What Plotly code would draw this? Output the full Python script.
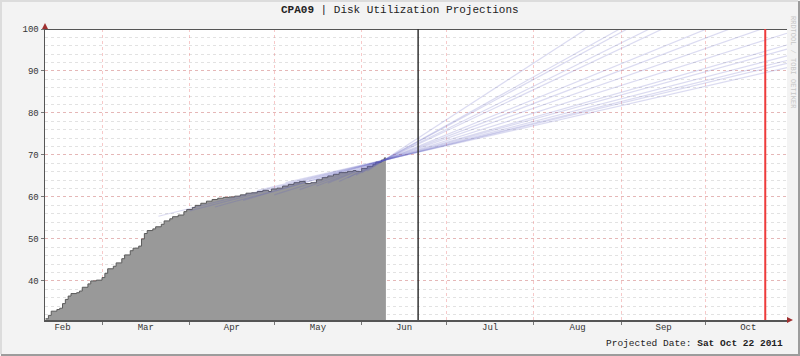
import plotly.graph_objects as go

# ---------------- data ----------------
usage_dates = [
    "2011-02-09", "2011-02-10", "2011-02-11", "2011-02-13", "2011-02-14", "2011-02-15",
    "2011-02-16", "2011-02-17", "2011-02-18", "2011-02-20", "2011-02-21", "2011-02-22",
    "2011-02-24", "2011-02-25", "2011-02-27", "2011-03-01", "2011-03-02", "2011-03-03",
    "2011-03-05", "2011-03-06", "2011-03-08", "2011-03-09", "2011-03-11", "2011-03-12",
    "2011-03-14", "2011-03-15", "2011-03-16", "2011-03-17", "2011-03-19", "2011-03-20",
    "2011-03-22", "2011-03-23", "2011-03-25", "2011-03-26", "2011-03-28", "2011-03-30",
    "2011-03-31", "2011-04-02", "2011-04-03", "2011-04-05", "2011-04-07", "2011-04-09",
    "2011-04-11", "2011-04-13", "2011-04-15", "2011-04-17", "2011-04-19", "2011-04-21",
    "2011-04-23", "2011-04-25", "2011-04-27", "2011-04-29", "2011-04-30", "2011-05-02",
    "2011-05-04", "2011-05-06", "2011-05-08", "2011-05-10", "2011-05-12", "2011-05-14",
    "2011-05-16", "2011-05-18", "2011-05-20", "2011-05-22", "2011-05-24", "2011-05-27",
    "2011-05-29", "2011-05-30", "2011-06-01", "2011-06-03", "2011-06-05", "2011-06-06",
    "2011-06-08", "2011-06-09", "2011-06-09 14:00",
]
usage_values = [
    31.0, 31.8, 32.8, 33.2, 33.5, 34.6,
    35.6, 36.4, 37.0, 37.2, 37.6, 38.5,
    39.3, 40.0, 40.2, 40.8, 41.8, 42.9,
    43.5, 44.3, 45.3, 46.2, 47.2, 47.8,
    48.3, 50.0, 51.3, 52.0, 52.4, 52.9,
    53.5, 54.3, 54.8, 55.3, 55.7, 56.5,
    57.0, 57.5, 58.0, 58.5, 59.0, 59.4,
    59.7, 59.9, 60.0, 60.2, 60.5, 60.9,
    61.0, 61.3, 61.6, 61.3, 61.9, 62.1,
    62.6, 63.0, 63.4, 63.7, 63.2, 63.4,
    64.1, 64.6, 65.0, 65.4, 65.8, 66.1,
    66.3, 66.1, 66.8, 67.3, 67.8, 68.3,
    68.8, 69.3, 69.3,
]

# projection trend lines: start point and value at the right edge of the chart
proj_start_dates = [
    "2011-06-03", "2011-06-01", "2011-05-30", "2011-05-27", "2011-05-24",
    "2011-05-20", "2011-05-16", "2011-05-10", "2011-05-01", "2011-04-20",
    "2011-04-10", "2011-04-01", "2011-03-21", "2011-04-25", "2011-05-05",
]
proj_start_values = [
    66.2, 65.8, 65.2, 64.5, 63.7,
    63.3, 62.6, 61.75, 60.5, 59.2,
    57.6, 56.7, 55.4, 61.5, 63.4,
]
proj_end_date = "2011-10-29 17:00"
proj_end_values = [
    131.0, 122.2, 120.5, 116.2, 114.0,
    107.8, 105.2, 102.1, 99.0, 96.2,
    95.2, 93.6, 92.5, 91.8, 90.8,
]

now_date = "2011-06-21"
projected_date = "2011-10-22"
projected_label = "Sat Oct 22 2011"
limit_value = 100

x_range = ["2011-02-08 19:00", "2011-10-29 17:00"]
y_range = [30.7, 100]
y_ticks = [40, 50, 60, 70, 80, 90, 100]

# ---------------- layout constants ----------------
W, H = 800, 356
ML, MR, MT, MB = 45, 13, 29, 36
PW, PH = W - ML - MR, H - MT - MB
FONT = "Liberation Mono"


def px_x(px):
    return (px - ML) / PW


def px_y(py):
    return 1 - (py - MT) / PH


fig = go.Figure()

fig.add_trace(go.Scatter(
    x=usage_dates, y=usage_values, mode="lines", line_shape="hv",
    line=dict(color="#5a5a5a", width=1), fill="tozeroy", fillcolor="#999999",
    hoverinfo="skip", showlegend=False,
))

for sd, sv, ev in zip(proj_start_dates, proj_start_values, proj_end_values):
    fig.add_trace(go.Scatter(
        x=[sd, proj_end_date], y=[sv, ev], mode="lines",
        line=dict(color="rgba(90,90,190,0.22)", width=1.2),
        hoverinfo="skip", showlegend=False,
    ))

shapes = [
    # limit rule at 100
    dict(type="line", xref="paper", yref="y", x0=0, x1=1, y0=limit_value, y1=limit_value,
         line=dict(color="#555555", width=2)),
    # now line
    dict(type="line", xref="x", yref="paper", x0=now_date, x1=now_date, y0=0, y1=1,
         line=dict(color="#333333", width=1.5)),
    # projected date line
    dict(type="line", xref="x", yref="paper", x0=projected_date, x1=projected_date, y0=0, y1=1,
         line=dict(color="#ee3b3b", width=2)),
    # y axis arrow
    dict(type="path", xref="paper", yref="paper", fillcolor="#a03030", line=dict(width=0),
         path=f"M {px_x(42)},{px_y(29)} L {px_x(48)},{px_y(29)} L {px_x(45)},{px_y(23)} Z"),
    # x axis arrow
    dict(type="path", xref="paper", yref="paper", fillcolor="#a03030", line=dict(width=0),
         path=f"M {px_x(787)},{px_y(317)} L {px_x(787)},{px_y(323)} L {px_x(793)},{px_y(320)} Z"),
    # outer frame: light top/left, dark bottom/right
    dict(type="path", xref="paper", yref="paper", line=dict(color="#dcdcdc", width=2),
         path=f"M {px_x(1)},{px_y(354)} L {px_x(1)},{px_y(1)} L {px_x(798)},{px_y(1)}"),
    dict(type="path", xref="paper", yref="paper", line=dict(color="#9c9c9c", width=2),
         path=f"M {px_x(1)},{px_y(355)} L {px_x(799)},{px_y(355)} L {px_x(799)},{px_y(1)}"),
]

annotations = [
    dict(xref="paper", yref="paper", x=px_x(400), y=px_y(10), xanchor="center", yanchor="middle",
         text="<b>CPA09</b> | Disk Utilization Projections", showarrow=False,
         font=dict(family=FONT, size=11, color="#222222")),
    dict(xref="paper", yref="paper", x=px_x(785), y=px_y(343), xanchor="right", yanchor="middle",
         text=f"Projected Date: <b>{projected_label}</b>", showarrow=False,
         font=dict(family=FONT, size=9.5, color="#222222")),
    dict(xref="paper", yref="paper", x=px_x(793), y=px_y(62), xanchor="center", yanchor="middle",
         text="RRDTOOL / TOBI OETIKER", textangle=90, showarrow=False,
         font=dict(family=FONT, size=7, color="#c8c8c8")),
]

fig.update_layout(
    width=W, height=H,
    margin=dict(l=ML, r=MR, t=MT, b=MB, pad=0),
    paper_bgcolor="#f3f3f3", plot_bgcolor="#ffffff",
    shapes=shapes, annotations=annotations,
    showlegend=False,
    font=dict(family=FONT, size=9, color="#333333"),
)

fig.update_xaxes(
    type="date", range=x_range, dtick="M1", tick0="2011-01-01",
    tickformat="%b", ticklabelmode="period", ticklabelstandoff=-5,
    showgrid=True, gridcolor="rgba(235,120,120,0.4)", griddash="dot", gridwidth=1,
    ticks="outside", ticklen=3, tickcolor="#777777",
    showline=True, linecolor="#555555", linewidth=1.5,
    tickfont=dict(family=FONT, size=9, color="#333333"),
    zeroline=False, fixedrange=True,
)
fig.update_yaxes(
    range=y_range, tickvals=y_ticks,
    showgrid=True, gridcolor="rgba(235,120,120,0.4)", griddash="dot", gridwidth=1,
    minor=dict(dtick=2, tick0=0, showgrid=True, gridcolor="#e2e2e2", griddash="dot"),
    ticks="outside", ticklen=3, tickcolor="#777777",
    showline=True, linecolor="#555555", linewidth=1.5,
    tickfont=dict(family=FONT, size=9, color="#333333"),
    zeroline=False, fixedrange=True,
)

fig.write_html(
    "out.html",
    config={"displayModeBar": False, "staticPlot": True},
    post_script="document.body.style.margin='0px';document.body.style.padding='0px';",
)
